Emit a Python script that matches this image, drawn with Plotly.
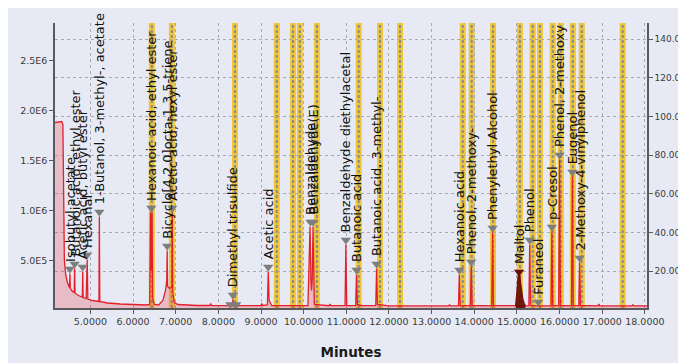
import plotly.graph_objects as go

# ---------------- data ----------------
rt = [4.17, 4.33, 4.355, 4.37, 4.39, 4.42, 4.46, 4.50, 4.51, 4.52, 4.53, 4.58,
      4.62, 4.63, 4.64, 4.72, 4.81, 4.82, 4.83, 4.90, 4.915, 4.925, 4.94, 5.05,
      5.20, 5.21, 5.22, 5.40, 5.70, 6.00, 6.30, 6.39, 6.41, 6.425, 6.445, 6.46, 6.50,
      6.60, 6.70, 6.76, 6.79, 6.80, 6.81, 6.86, 6.91, 6.92, 6.93, 6.97, 7.05,
      7.50, 7.80, 7.82, 7.84, 8.20, 8.27, 8.28, 8.29, 8.33, 8.34, 8.35, 8.41, 8.42, 8.43,
      8.60, 9.00, 9.02, 9.04, 9.15, 9.17, 9.19, 9.25, 10.10, 10.15, 10.17, 10.185,
      10.20, 10.22, 10.25, 10.60, 10.62, 10.64, 10.97, 10.99, 11.01, 11.22, 11.24,
      11.26, 11.35, 11.69, 11.71, 11.73, 12.00, 13.40, 13.42, 13.44, 13.63, 13.65,
      13.67, 13.91, 13.93, 13.95, 14.41, 14.43, 14.45, 14.90, 15.28, 15.30, 15.32,
      15.48, 15.50, 15.52, 15.80, 15.82, 15.84, 15.98, 16.00, 16.02, 16.28, 16.30,
      16.32, 16.45, 16.47, 16.49, 16.90, 16.92, 16.94, 17.70, 17.72, 17.74, 18.05]
signal = [1.88e6, 1.89e6, 1.86e6, 9.0e5, 5.0e5, 3.6e5, 2.8e5, 2.4e5, 2.3e5, 3.7e5, 2.2e5, 1.9e5,
          1.8e5, 4.2e5, 1.75e5, 1.5e5, 1.35e5, 3.9e5, 1.3e5, 1.2e5, 5.1e5, 5.1e5, 1.15e5, 1.0e5,
          9.0e4, 9.4e5, 9.0e4, 7.5e4, 6.5e4, 5.8e4, 5.5e4, 6.0e4, 9.8e5, 4.0e5, 9.8e5, 1.2e5, 6.0e4,
          5.5e4, 1.0e5, 2.0e5, 3.0e5, 6.0e5, 2.4e5, 2.2e5, 2.4e5, 9.8e5, 1.8e5, 8.0e4, 6.0e4,
          5.0e4, 5.0e4, 7.0e4, 5.0e4, 4.8e4, 4.8e4, 6.0e4, 4.8e4, 5.0e4, 1.1e5, 5.0e4, 4.8e4, 6.0e4, 4.8e4,
          4.8e4, 5.0e4, 7.0e4, 5.0e4, 5.5e4, 3.9e5, 1.0e5, 5.0e4, 4.8e4, 8.4e5, 3.0e5, 2.0e5,
          3.0e5, 8.4e5, 6.0e4, 4.8e4, 6.5e4, 4.8e4, 4.8e4, 6.6e5, 4.8e4, 4.8e4, 3.6e5,
          6.0e4, 5.0e4, 4.8e4, 4.2e5, 6.0e4, 4.7e4, 4.7e4, 5.8e4, 4.7e4, 4.7e4, 3.6e5,
          5.0e4, 4.7e4, 4.4e5, 5.0e4, 4.7e4, 7.8e5, 5.0e4, 4.7e4, 4.7e4, 6.6e5, 5.0e4,
          4.7e4, 6.0e4, 4.7e4, 4.7e4, 7.9e5, 5.0e4, 4.7e4, 1.51e6, 5.0e4, 4.7e4, 1.34e6,
          5.0e4, 4.7e4, 4.8e5, 5.0e4, 4.7e4, 6.5e4, 4.7e4, 4.7e4, 5.8e4, 4.7e4, 4.7e4]

maltol_rt = [14.97, 14.99, 15.00, 15.02, 15.03, 15.05, 15.07, 15.08, 15.10, 15.12, 15.14, 15.17, 15.20]
maltol_signal = [5.0e4, 1.2e5, 1.8e5, 3.0e5, 3.5e5, 3.4e5, 3.5e5, 2.9e5, 2.3e5, 1.5e5, 1.1e5, 7.0e4, 5.0e4]

peak_rt = [4.52, 4.63, 4.82, 4.92, 5.21, 6.43, 6.80, 6.92, 8.28, 8.34, 8.42, 9.17,
           10.16, 10.22, 10.99, 11.24, 11.71, 13.65, 13.93, 14.43, 15.05, 15.30,
           15.50, 15.82, 16.00, 16.30, 16.47]
peak_marker = [4.15e5, 4.65e5, 4.35e5, 5.55e5, 9.85e5, 1.025e6, 6.45e5, 1.025e6, 6.0e4,
               1.55e5, 6.0e4, 4.35e5, 8.85e5, 8.85e5, 7.05e5, 4.05e5, 4.65e5, 4.05e5,
               4.85e5, 8.25e5, 3.85e5, 7.05e5, 8.5e4, 8.35e5, 1.555e6, 1.385e6, 5.25e5]
peak_names = ["Isobutyl acetate", "Butanoic acid, ethyl ester", "Acetic acid, butyl ester",
              "Hexanal", "1-Butanol, 3-methyl-, acetate", "Hexanoic acid, ethyl ester",
              "Bicyclo[4.2.0]octa-1,3,5-triene", "Acetic acid, hexyl ester", "",
              "Dimethyl trisulfide", "", "Acetic acid", "Benzaldehyde", "Benzaldehyde(E)",
              "Benzaldehyde diethylacetal", "Butanoic acid", "Butanoic acid, 3-methyl-",
              "Hexanoic acid", "Phenol, 2-methoxy-", "Phenylethyl Alcohol", "Maltol",
              "Phenol", "Furaneol", "p-Cresol", "Phenol, 2-methoxy", "Eugenol",
              "2-Methoxy-4-vinylphenol"]

band_rt = [6.44, 6.91, 8.39, 9.37, 9.75, 9.91, 10.31, 11.29, 11.79, 12.26, 13.73, 13.94,
           14.44, 15.07, 15.37, 15.54, 15.84, 16.03, 16.31, 16.52, 17.48]

x_ticks = [5, 6, 7, 8, 9, 10, 11, 12, 13, 14, 15, 16, 17, 18]
x_ticktext = ["%.4f" % v for v in x_ticks]
left_ticks = [5.0e5, 1.0e6, 1.5e6, 2.0e6, 2.5e6]
left_ticktext = ["5.0E5", "1.0E6", "1.5E6", "2.0E6", "2.5E6"]
right_ticks = [20, 40, 60, 80, 100, 120, 140]
right_ticktext = ["%.2f" % v for v in right_ticks]

# ---------------- figure ----------------
PANEL = "#e7eaf4"
GRID = "#a9abb3"
AX = "#5a5a5a"
TXT = "#3a3a3a"
FONT = "DejaVu Sans"

fig = go.Figure()

fig.add_trace(go.Scatter(x=rt, y=signal, mode="lines",
                         line=dict(color="#e3202a", width=1.3),
                         fill="tozeroy", fillcolor="rgba(232,70,80,0.28)",
                         hoverinfo="skip", showlegend=False))
fig.add_trace(go.Scatter(x=maltol_rt, y=maltol_signal, mode="lines",
                         line=dict(color="#7a0a0a", width=1.3),
                         fill="tozeroy", fillcolor="rgba(90,0,0,0.85)",
                         hoverinfo="skip", showlegend=False))
marker_colors = ["#6a0a0a" if n == "Maltol" else "#7e7e7e" for n in peak_names]
fig.add_trace(go.Scatter(x=peak_rt, y=peak_marker, mode="markers",
                         marker=dict(symbol="triangle-down", size=9, color=marker_colors),
                         hoverinfo="skip", showlegend=False, cliponaxis=True))
# empty trace on right axis so that it is drawn
fig.add_trace(go.Scatter(x=[None], y=[None], yaxis="y2", showlegend=False, hoverinfo="skip"))

shapes = []
for t in band_rt:
    shapes.append(dict(type="line", xref="x", yref="paper", x0=t, x1=t, y0=0, y1=1,
                       line=dict(color="rgba(240,192,24,0.85)", width=6), layer="below"))
    shapes.append(dict(type="line", xref="x", yref="paper", x0=t, x1=t, y0=0, y1=1,
                       line=dict(color="#8c8c8c", width=2, dash="3px,2px"), layer="below"))

annotations = []
for t, m, n in zip(peak_rt, peak_marker, peak_names):
    if not n:
        continue
    annotations.append(dict(x=t, y=m + 5.5e4, xref="x", yref="y", text=n, textangle=-90,
                            showarrow=False, xanchor="center", yanchor="bottom",
                            font=dict(family=FONT, size=13, color="#111111")))

# the page body adds an 8px white border at the top-left, so the figure is 8px smaller
fig.update_layout(
    width=678, height=355,
    margin=dict(l=47, r=39, t=15, b=55, autoexpand=False),
    paper_bgcolor=PANEL, plot_bgcolor=PANEL,
    shapes=shapes, annotations=annotations,
    xaxis=dict(range=[4.17, 18.05], tickvals=x_ticks, ticktext=x_ticktext,
               showgrid=True, gridcolor=GRID, griddash="dot", gridwidth=1,
               showline=True, linecolor=AX, linewidth=1.5, ticks="outside",
               ticklen=4, tickcolor=AX, zeroline=False, automargin=False,
               tickfont=dict(family=FONT, size=9.5, color=TXT),
               title=dict(text="<b>Minutes</b>", font=dict(family=FONT, size=13.5, color="#1a1a1a"),
                          standoff=21)),
    yaxis=dict(range=[2.5e4, 2.875e6], tickvals=left_ticks, ticktext=left_ticktext,
               showgrid=False, showline=True, linecolor=AX, linewidth=1.5,
               ticks="outside", ticklen=4, tickcolor=AX, zeroline=False, automargin=False,
               tickfont=dict(family=FONT, size=9.5, color=TXT)),
    yaxis2=dict(range=[1.03, 148.3], tickvals=right_ticks, ticktext=right_ticktext,
                overlaying="y", side="right", showgrid=True, gridcolor=GRID,
                griddash="dot", gridwidth=1, showline=True, linecolor=AX, linewidth=1.5,
                ticks="outside", ticklen=4, tickcolor=AX, zeroline=False, automargin=False,
                tickfont=dict(family=FONT, size=9, color=TXT)),
)

fig.write_html("out.html")
